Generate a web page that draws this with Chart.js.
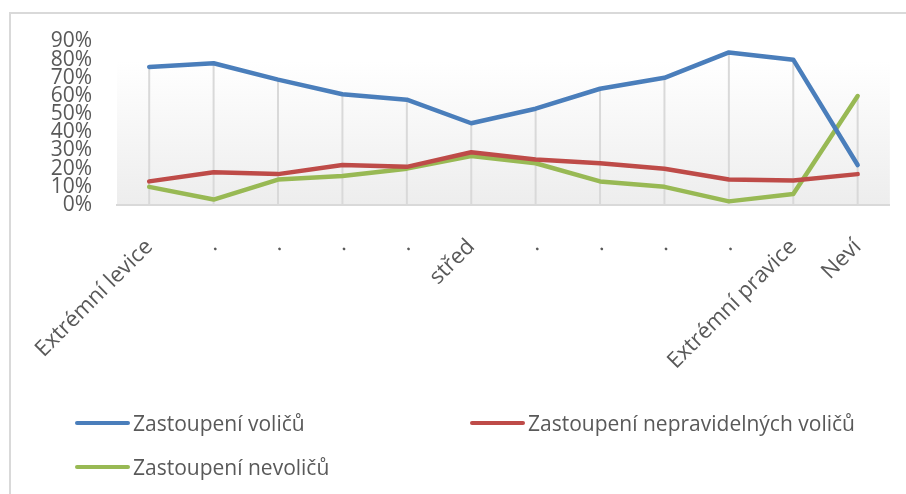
<!DOCTYPE html>
<html>
<head>
<meta charset="utf-8">
<script src="https://cdn.jsdelivr.net/npm/chart.js@4/dist/chart.umd.min.js"></script>
<style>
  html, body { margin: 0; padding: 0; background: #ffffff; }
  #wrap { position: relative; width: 906px; height: 494px; overflow: hidden; font-family: "Open Sans", sans-serif; }
  #frame { position: absolute; left: 9px; top: 12px; width: 900px; height: 490px; border-left: 2px solid #d9d9d9; border-top: 2px solid #d9d9d9; }
  canvas { position: absolute; left: 0; top: 0; }
  .leg { position: absolute; display: flex; align-items: center; color: #595959; font-size: 21px; white-space: nowrap; }
  .leg .sw { width: 55px; height: 4px; border-radius: 2px; margin-right: 3px; }
</style>
</head>
<body>
<div id="wrap">
  <div id="frame"></div>
  <canvas id="c" width="906" height="494"></canvas>
  <div id="legend"></div>
</div>
<script>
const categories = ["Extrémní levice", ".", ".", ".", ".", "střed", ".", ".", ".", ".", "Extrémní pravice", "Neví"];
const seriesNames = ["Zastoupení voličů", "Zastoupení nepravidelných voličů", "Zastoupení nevoličů"];
const voters = [76, 78, 69, 61, 58, 45, 53, 64, 70, 84, 80, 22];
const irregularVoters = [13, 18, 17, 22, 21, 29, 25, 23, 20, 14, 13.5, 17];
const nonVoters = [10, 3, 14, 16, 20, 27, 23, 13, 10, 2, 6, 60];
const yTicks = [0, 10, 20, 30, 40, 50, 60, 70, 80, 90];

const colors = ["#4a7ebb", "#be4b48", "#98b954"];
const seriesValues = [voters, irregularVoters, nonVoters];

// HTML legend (grid layout as in reference)
const legendPos = [[75, 423], [470, 423], [75, 467]];
const legendEl = document.getElementById('legend');
seriesNames.forEach((n, i) => {
  const d = document.createElement('div');
  d.className = 'leg';
  d.style.left = legendPos[i][0] + 'px';
  d.style.top = (legendPos[i][1] - 14) + 'px';
  d.style.height = '28px';
  d.innerHTML = '<span class="sw" style="background:' + colors[i] + '"></span><span>' + n + '</span>';
  legendEl.appendChild(d);
});

const bgPlugin = {
  id: 'plotBg',
  beforeDraw(chart) {
    const {ctx, chartArea: a} = chart;
    const g = ctx.createLinearGradient(0, a.top, 0, a.bottom);
    g.addColorStop(0, '#ffffff');
    g.addColorStop(0.12, '#ffffff');
    g.addColorStop(1, '#ededed');
    ctx.save();
    ctx.fillStyle = g;
    ctx.fillRect(a.left, a.top, a.right - a.left, a.bottom - a.top);
    ctx.restore();
  }
};

const dropLines = {
  id: 'dropLines',
  beforeDatasetsDraw(chart) {
    const {ctx, chartArea: a, scales: {x, y}} = chart;
    ctx.save();
    ctx.strokeStyle = '#d9d9d9';
    ctx.lineWidth = 2;
    categories.forEach((c, i) => {
      const maxV = Math.max(...chart.data.datasets.map(ds => ds.data[i]));
      const px = x.getPixelForValue(i);
      ctx.beginPath();
      ctx.moveTo(px, y.getPixelForValue(maxV));
      ctx.lineTo(px, a.bottom);
      ctx.stroke();
    });
    ctx.restore();
  }
};

new Chart(document.getElementById('c'), {
  type: 'line',
  data: {
    labels: categories,
    datasets: seriesNames.map((n, i) => ({
      label: n,
      data: seriesValues[i],
      borderColor: colors[i],
      backgroundColor: colors[i],
      borderWidth: 4.5,
      pointRadius: 0,
      tension: 0,
      borderCapStyle: 'round',
      borderJoinStyle: 'round',
      fill: false
    }))
  },
  options: {
    responsive: false,
    animation: false,
    layout: { padding: { top: 41.5, left: 0, right: 16, bottom: 0 } },
    plugins: { legend: { display: false }, tooltip: { enabled: false } },
    scales: {
      x: {
        offset: true,
        grid: { display: false, drawTicks: false, tickLength: 0 },
        border: { display: true, color: '#d9d9d9', width: 2 },
        ticks: {
          color: '#595959',
          font: { family: 'Open Sans', size: 22 },
          minRotation: 45, maxRotation: 45,
          autoSkip: false,
          padding: 29
        },
        afterFit(scale) { scale.height = 494 - 205; }
      },
      y: {
        min: 0, max: 90,
        afterBuildTicks(scale) { scale.ticks = yTicks.map(v => ({ value: v })); },
        grid: { display: false, drawTicks: false, tickLength: 0 },
        border: { display: false },
        ticks: {
          color: '#595959',
          font: { family: 'Open Sans', size: 21 },
          padding: 25,
          autoSkip: false,
          callback: v => v + '%'
        },
        afterFit(scale) { scale.width = 117; }
      }
    }
  },
  plugins: [bgPlugin, dropLines]
});
</script>
</body>
</html>
